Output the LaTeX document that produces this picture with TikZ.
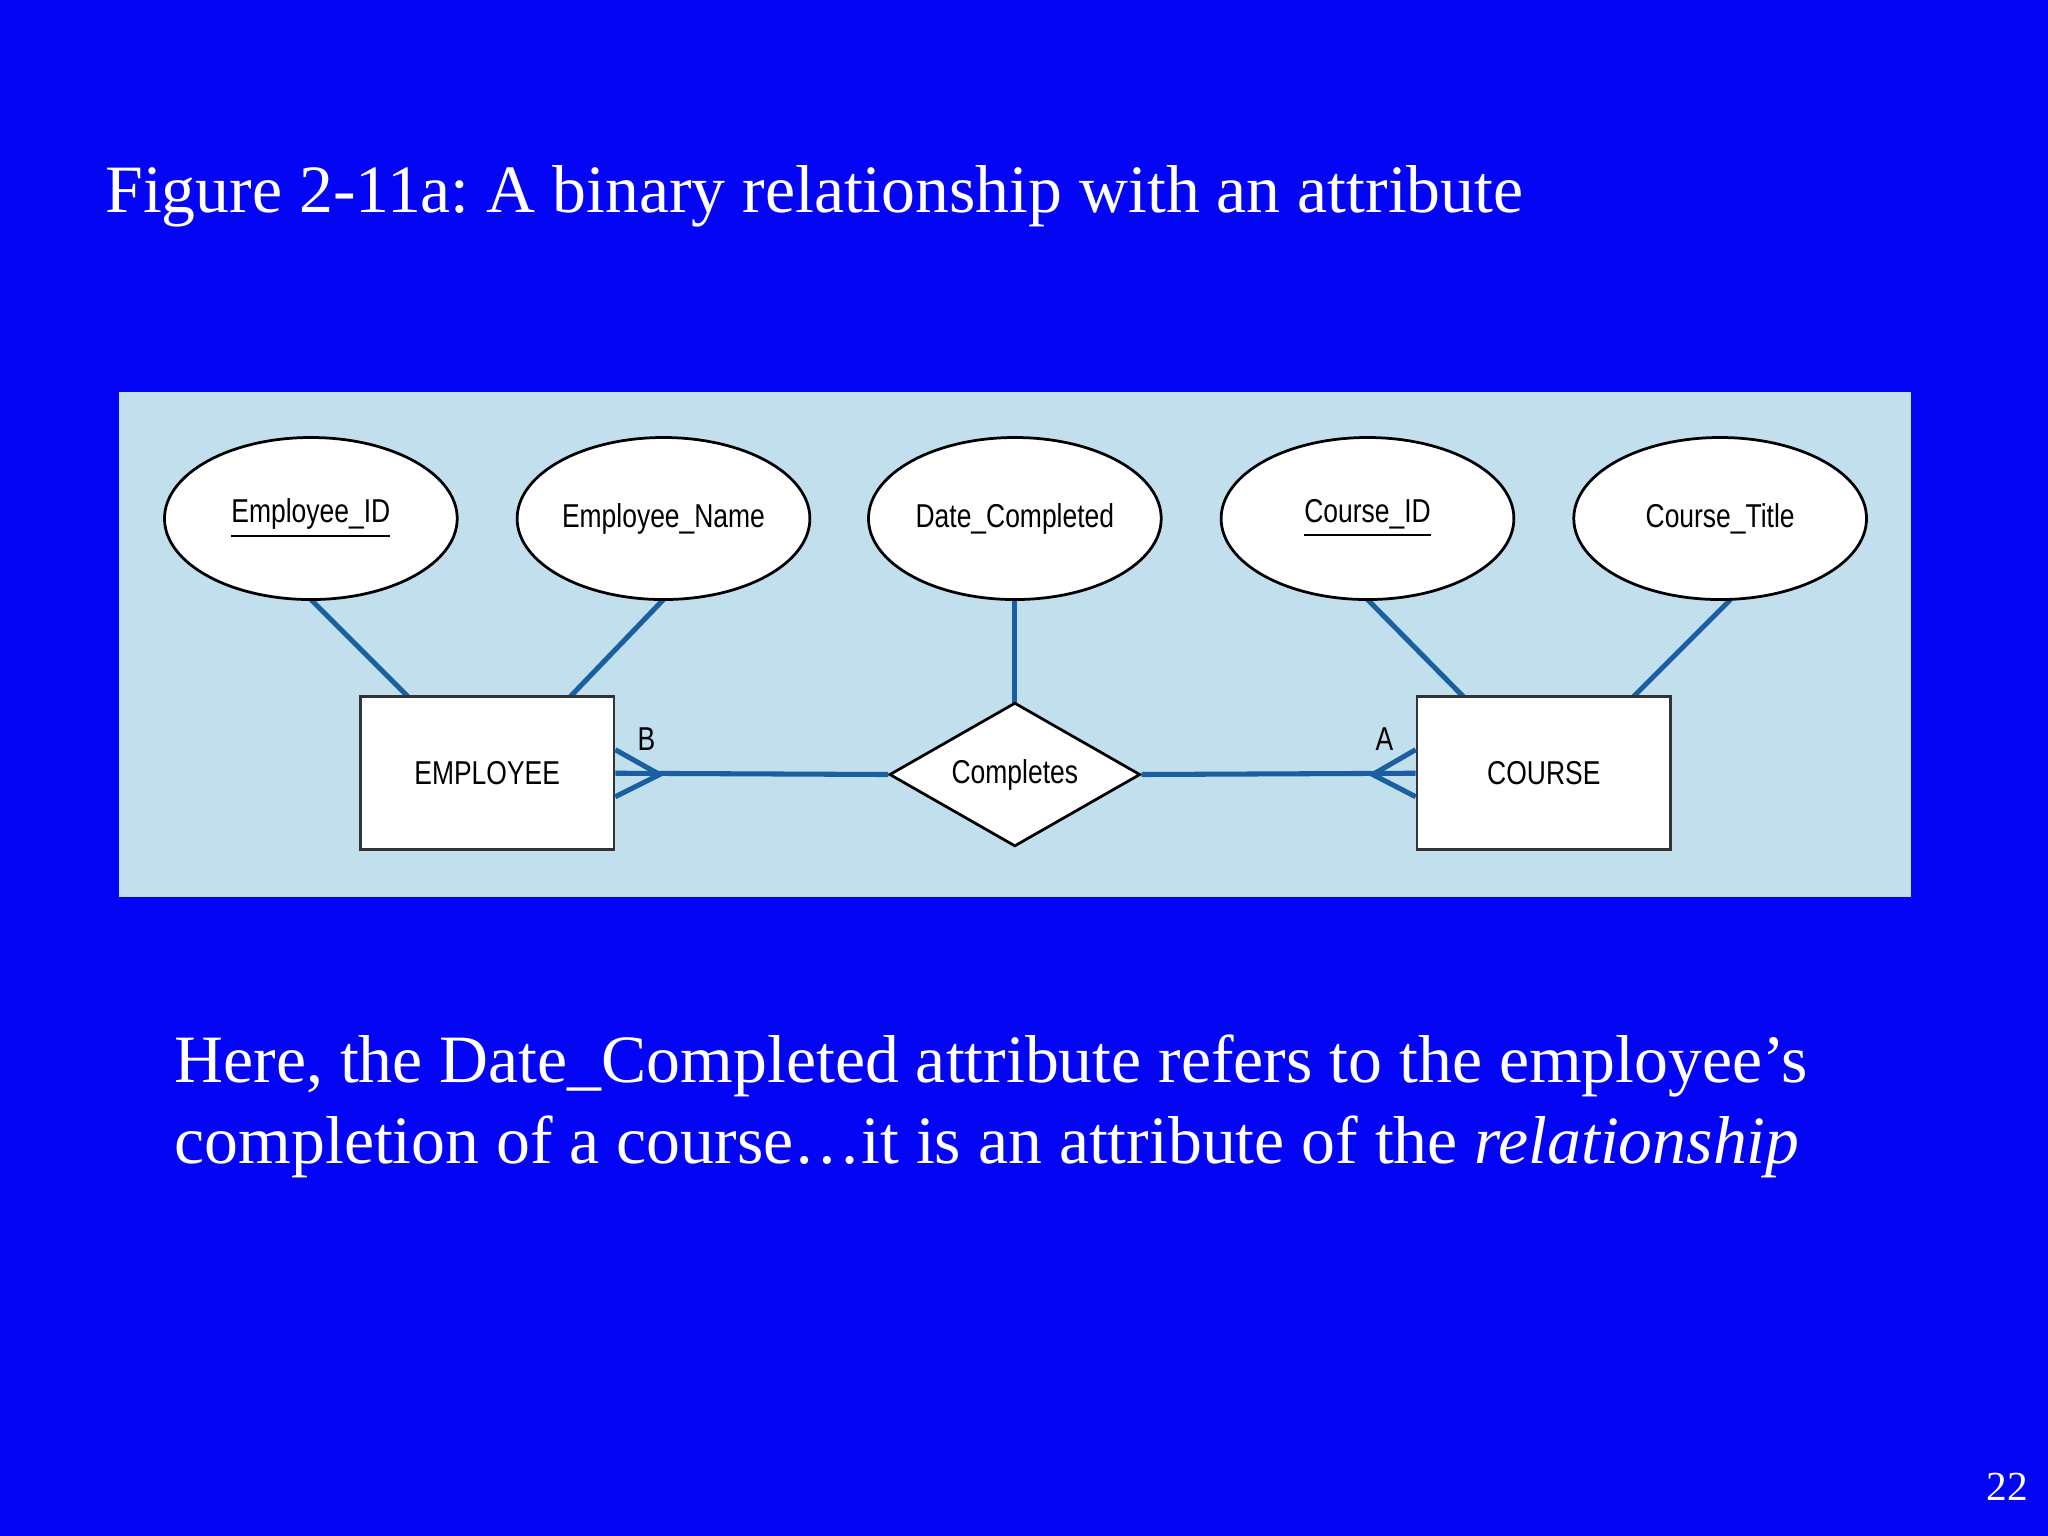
\documentclass[tikz,border=0pt]{standalone}
\usepackage{fontspec}
\setmainfont{Liberation Serif}
\newfontfamily\diag[FakeStretch=0.8]{Liberation Sans}
\usetikzlibrary{shapes.geometric}
\definecolor{slide}{HTML}{0505F5}
\definecolor{panel}{HTML}{C2DFEE}
\definecolor{erline}{HTML}{1A5FA0}
\frenchspacing
\begin{document}
\begin{tikzpicture}[x=0.01cm,y=-0.01cm,
  attr/.style={ellipse,draw=black,fill=white,line width=0.6pt,minimum width=2.24cm,minimum height=1.24cm,inner sep=0pt,font=\diag\fontsize{7.2}{9}\selectfont},
  ent/.style={rectangle,draw=black!80,fill=white,line width=0.6pt,minimum width=1.94cm,minimum height=1.17cm,inner sep=0pt,font=\diag\fontsize{7.2}{9}\selectfont},
  rel/.style={diamond,draw=black,fill=white,line width=0.6pt,aspect=1.75,minimum width=1.92cm,minimum height=1.10cm,inner sep=0pt,font=\diag\fontsize{7.2}{9}\selectfont},
  conn/.style={draw=erline,line width=1.1pt},
  card/.style={font=\diag\fontsize{7.2}{9}\selectfont,text=black},
  slidetext/.style={text=white,anchor=base west,inner sep=0pt,font=\fontsize{14.75}{18}\selectfont}]
\fill[slide] (0,0) rectangle (1568,1176);
\useasboundingbox (0,0) rectangle (1568,1176);
\fill[panel] (91,300) rectangle (1463,687);
\node[slidetext] (title) at (80,163) {Figure 2-11a: A binary relationship with an attribute};
\coordinate (e1b) at (238,459); \coordinate (e2b) at (508,459);
\coordinate (e3b) at (777,459); \coordinate (e4b) at (1047,459); \coordinate (e5b) at (1325,459);
\coordinate (r1t) at (313,534); \coordinate (r2t) at (436,534);
\coordinate (dt) at (777,538); \coordinate (c1t) at (1121,534); \coordinate (c2t) at (1250,534);
\draw[conn] (e1b)--(r1t); \draw[conn] (e2b)--(r2t); \draw[conn] (e3b)--(dt);
\draw[conn] (e4b)--(c1t); \draw[conn] (e5b)--(c2t);
\node[attr] (a1) at (238,397) {\underline{Employee\_ID}};
\node[attr] (a2) at (508,397) {Employee\_Name};
\node[attr] (a3) at (777,397) {Date\_Completed};
\node[attr] (a4) at (1047,397) {\underline{Course\_ID}};
\node[attr] (a5) at (1317,397) {Course\_Title};
\node[ent] (emp) at (373,592) {EMPLOYEE};
\node[ent] (crs) at (1182,592) {COURSE};
\node[rel] (comp) at (777,593) {Completes};
\draw[conn] (emp.east)--(comp.west);
\draw[conn] (comp.east)--(crs.west);
\coordinate (fe) at (505,593); \coordinate (fc) at (1051,593);
\draw[conn] ([yshift=-0.18cm]emp.east)--(fe)--([yshift=0.18cm]emp.east);
\draw[conn] ([yshift=-0.18cm]crs.west)--(fc)--([yshift=0.18cm]crs.west);
\node[card] (lb) at (495,566) {B};
\node[card] (la) at (1060,566) {A};
\node[slidetext] (body1) at (133,829) {Here, the Date\_Completed attribute refers to the employee’s};
\node[slidetext] (body2) at (133,891) {completion of a course\ldots it is an attribute of the \textit{relationship}};
\node[text=white,font=\fontsize{9}{11}\selectfont] (pg) at (1537,1138) {22};
\end{tikzpicture}
\end{document}
